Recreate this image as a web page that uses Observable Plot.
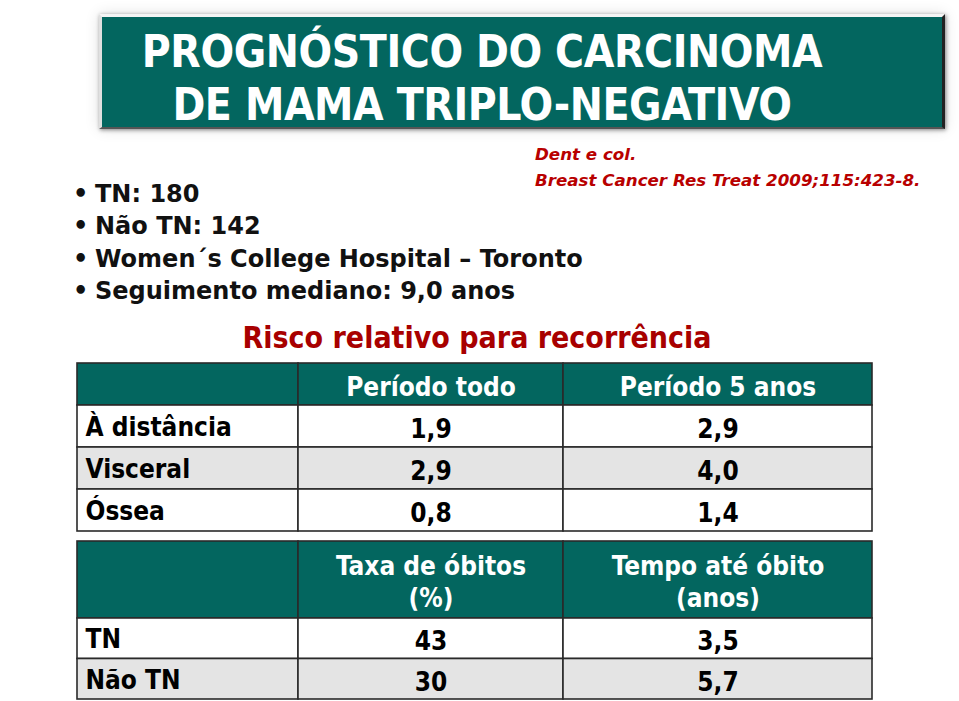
<!DOCTYPE html>
<html><head><meta charset="utf-8">
<script src="https://cdn.jsdelivr.net/npm/d3@7"></script>
<script src="https://cdn.jsdelivr.net/npm/@observablehq/plot@0.6"></script>
<style>
html,body{margin:0;padding:0;background:#fff;}
#page{position:relative;width:959px;height:701px;overflow:hidden;background:#fff;}
#titlebox{position:absolute;left:99px;top:14px;width:846px;height:115px;box-sizing:border-box;
  background:#03665f;border-top:3px solid #f4f4f4;border-left:3px solid #e0e0e0;border-right:3px solid #222;border-bottom:2px solid #555;
  box-shadow:1px 1px 4px rgba(0,0,0,.45),0 0 14px rgba(0,0,0,.12);}
#title{position:absolute;left:0;width:760px;top:8px;text-align:center;color:#fff;
  font-family:"DejaVu Sans Condensed","DejaVu Sans";font-weight:bold;font-size:44px;line-height:53px;letter-spacing:-0.4px;}
#cite{position:absolute;left:535px;top:141px;color:#b80000;font-family:"DejaVu Sans";font-weight:bold;font-style:italic;font-size:16.7px;line-height:26px;}
#bullets{position:absolute;left:73px;top:178px;margin:0;padding:0;list-style:none;font-family:"DejaVu Sans";font-weight:bold;font-size:24px;line-height:32.4px;color:#111;}
#bullets li::before{content:"•";display:inline-block;width:22px;}
#risco{position:absolute;left:0;width:954px;top:320px;text-align:center;color:#a80000;font-family:"DejaVu Sans Condensed","DejaVu Sans";font-weight:bold;font-size:30px;}
#t1{position:absolute;left:0;top:362px;}
#t2{position:absolute;left:0;top:540px;}
</style></head><body>
<div id="page">
  <div id="titlebox"><div id="title"></div></div>
  <div id="cite"></div>
  <ul id="bullets"></ul>
  <div id="risco"></div>
  <div id="t1"></div>
  <div id="t2"></div>
</div>
<script>
// ---- data ----
const titleLines = ["PROGNÓSTICO DO CARCINOMA", "DE MAMA TRIPLO-NEGATIVO"];
const citation = ["Dent e col.", "Breast Cancer Res Treat 2009;115:423-8."];
const bullets = ["TN: 180", "Não TN: 142", "Women´s College Hospital – Toronto", "Seguimento mediano: 9,0 anos"];
const tableTitle = "Risco relativo para recorrência";

const rrColumns = ["Período todo", "Período 5 anos"];
const rrRows = ["À distância", "Visceral", "Óssea"];
const rrWhole = [1.9, 2.9, 0.8];
const rrFive = [2.9, 4.0, 1.4];

const deathColumns = ["Taxa de óbitos\n(%)", "Tempo até óbito\n(anos)"];
const deathRows = ["TN", "Não TN"];
const deathRate = [43, 30];
const deathTime = [3.5, 5.7];

// ---- layout / style ----
const colWidths = [221, 265, 309];
const teal = "#03665f", gray = "#e4e4e4", border = "#2a2a2a";
const font = "DejaVu Sans Condensed, DejaVu Sans";

document.getElementById("title").innerHTML = titleLines.join("<br>");
document.getElementById("cite").innerHTML = citation.join("<br>");
document.getElementById("bullets").innerHTML = bullets.map(b => `<li>${b}</li>`).join("");
document.getElementById("risco").textContent = tableTitle;

const edges = [0];
colWidths.forEach(w => edges.push(edges[edges.length - 1] + w));
const fmt1 = v => d3.format(".1f")(v).replace(".", ",");
const fmt0 = v => d3.format("d")(v);

function buildTable(columns, rows, seriesA, seriesB, fmtA, fmtB, headerUnits, rowUnits, height) {
  const cells = [];
  const total = headerUnits + rows.length * rowUnits;
  for (let c = 0; c < 3; c++) {
    cells.push({x1: edges[c], x2: edges[c + 1], y1: 0, y2: headerUnits, fill: teal,
      text: c === 0 ? "" : columns[c - 1], color: "#fff", anchor: c === 0 ? "start" : "middle"});
  }
  rows.forEach((r, i) => {
    const y1 = headerUnits + i * rowUnits, y2 = y1 + rowUnits;
    const fill = i % 2 === 1 ? gray : "#fff";
    cells.push({x1: edges[0], x2: edges[1], y1, y2, fill, text: r, color: "#000", anchor: "start"});
    cells.push({x1: edges[1], x2: edges[2], y1, y2, fill, text: fmtA(seriesA[i]), color: "#000", anchor: "middle"});
    cells.push({x1: edges[2], x2: edges[3], y1, y2, fill, text: fmtB(seriesB[i]), color: "#000", anchor: "middle"});
  });
  return Plot.plot({
    width: 959, height,
    margin: 0,
    x: {domain: [0, edges[3]], range: [77, 872], axis: null},
    y: {domain: [0, total], range: [1, height - 1], axis: null},
    style: {background: "transparent"},
    marks: [
      Plot.rect(cells, {x1: "x1", x2: "x2", y1: "y1", y2: "y2", fill: "fill", stroke: border, strokeWidth: 1.6}),
      Plot.text(cells.filter(d => d.anchor === "start"), {
        x: "x1", y: d => (d.y1 + d.y2) / 2, dx: 8, dy: 1, text: "text", fill: "color", textAnchor: "start",
        fontFamily: font, fontWeight: "bold", fontSize: 26
      }),
      Plot.text(cells.filter(d => d.anchor === "middle"), {
        x: d => (d.x1 + d.x2) / 2, y: d => (d.y1 + d.y2) / 2, dy: 1, text: "text", fill: "color", textAnchor: "middle",
        fontFamily: font, fontWeight: "bold", fontSize: 26, lineHeight: 1.24
      })
    ]
  });
}

document.getElementById("t1").append(buildTable(rrColumns, rrRows, rrWhole, rrFive, fmt1, fmt1, 1, 1, 170));
document.getElementById("t2").append(buildTable(deathColumns, deathRows, deathRate, deathTime, fmt0, fmt1, 1.9, 1, 160));
</script>
</body></html>
